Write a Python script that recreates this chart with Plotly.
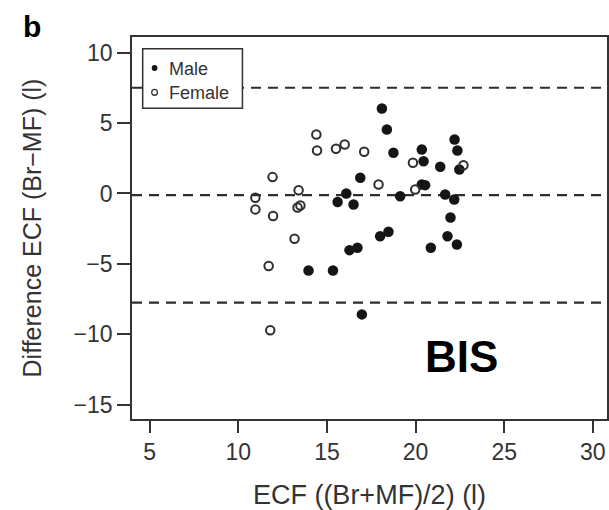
import plotly.graph_objects as go

# Bland-Altman data: mean ECF of the two methods vs. their difference (litres)
male_mean = [16.88, 16.09, 15.60, 16.50, 18.10, 18.38, 18.75, 20.35, 20.45, 21.39,
             22.20, 22.36, 22.47, 19.13, 20.35, 20.54, 21.67, 22.18, 21.97, 18.00,
             18.47, 20.86, 21.80, 22.33, 16.97, 13.96, 15.34, 16.27, 16.72]
male_diff = [1.11, 0.00, -0.60, -0.78, 6.03, 4.54, 2.89, 3.12, 2.29, 1.89,
             3.83, 3.05, 1.70, -0.20, 0.64, 0.59, -0.07, -0.43, -1.70, -3.03,
             -2.72, -3.85, -3.03, -3.62, -8.58, -5.46, -5.46, -4.02, -3.85]

female_mean = [14.40, 14.44, 15.51, 16.00, 17.10, 11.93, 10.96, 10.96, 11.96, 13.40,
               13.50, 13.34, 13.17, 11.71, 11.80, 17.91, 19.85, 19.98, 22.70]
female_diff = [4.18, 3.05, 3.17, 3.47, 2.96, 1.16, -0.30, -1.13, -1.60, 0.23,
               -0.85, -1.00, -3.21, -5.15, -9.70, 0.64, 2.18, 0.28, 2.00]

# mean difference and limits of agreement
bias = -0.12
limits = [7.50, -7.75]

legend_labels = ["Male", "Female"]
panel_label = "b"
method_label = "BIS"

x_ticks = [5, 10, 15, 20, 25, 30]
y_ticks = [10, 5, 0, -5, -10, -15]

FONT = "Liberation Sans, Arial, sans-serif"
TEXT = "#333333"

fig = go.Figure()
fig.add_trace(go.Scatter(
    x=male_mean, y=male_diff, mode="markers", name=legend_labels[0],
    marker=dict(symbol="circle", size=10.5, color="#151515", line=dict(width=0)),
    showlegend=False))
fig.add_trace(go.Scatter(
    x=female_mean, y=female_diff, mode="markers", name=legend_labels[1],
    marker=dict(symbol="circle-open", size=8.5, color="#2e2e2e", line=dict(width=2)),
    showlegend=False))

# dashed reference lines at bias and limits of agreement
for yv in [bias] + limits:
    fig.add_shape(type="line", xref="paper", x0=0, x1=1, yref="y", y0=yv, y1=yv,
                  line=dict(color="#2e2e2e", width=2.2, dash="10px,7px"), layer="below")

# boxed key in the upper-left corner
fig.add_shape(type="rect", xref="paper", yref="paper",
              x0=0.0225, x1=0.2325, y0=0.8135, y1=0.969,
              line=dict(color="#333333", width=1.5), fillcolor="white")
fig.add_shape(type="circle", xref="paper", yref="paper",
              x0=0.0415, x1=0.0535, y0=0.9110, y1=0.9265,
              line=dict(color="#151515", width=0), fillcolor="#151515")
fig.add_shape(type="circle", xref="paper", yref="paper",
              x0=0.0415, x1=0.0535, y0=0.8475, y1=0.8630,
              line=dict(color="#333333", width=1.3), fillcolor="rgba(0,0,0,0)")
for label, ypos in zip(legend_labels, [0.917, 0.854]):
    fig.add_annotation(text=label, xref="paper", yref="paper", x=0.0740, y=ypos,
                       xanchor="left", yanchor="middle", showarrow=False,
                       font=dict(family=FONT, size=18, color=TEXT))

fig.add_annotation(text="<b>%s</b>" % method_label, xref="x", yref="y", x=22.6, y=-11.6,
                   xanchor="center", yanchor="middle", showarrow=False,
                   font=dict(family=FONT, size=44, color="black"))
fig.add_annotation(text="<b>%s</b>" % panel_label, xref="paper", yref="paper",
                   x=-0.21, y=1.027, xanchor="center", yanchor="middle", showarrow=False,
                   font=dict(family=FONT, size=30, color="black"))

axis_common = dict(showline=True, mirror=True, linecolor="#333333", linewidth=1.6,
                   ticks="outside", tickcolor="#333333", tickwidth=1.6,
                   showgrid=False, zeroline=False,
                   tickfont=dict(family=FONT, size=23, color=TEXT))

fig.update_xaxes(range=[4.0, 30.8], tickvals=x_ticks, ticklen=12,
                 title=dict(text="ECF ((Br+MF)/2) (l)", standoff=23,
                            font=dict(family=FONT, size=27, color=TEXT)),
                 **axis_common)
fig.update_yaxes(range=[-16.0, 11.1], tickvals=y_ticks, ticklen=13,
                 title=dict(text="Difference ECF (Br−MF) (l)", standoff=25,
                            font=dict(family=FONT, size=25, color=TEXT)),
                 **axis_common)

fig.update_layout(width=609, height=510,
                  margin=dict(l=132, r=2, t=37, b=91, autoexpand=False),
                  paper_bgcolor="white", plot_bgcolor="white",
                  showlegend=False)

fig.write_html("out.html")
